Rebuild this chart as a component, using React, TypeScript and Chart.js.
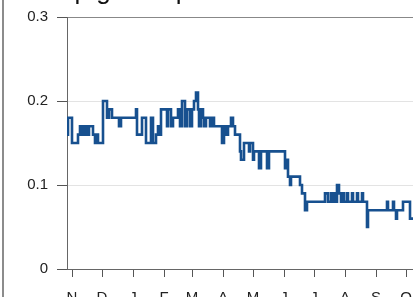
import React, { useEffect, useRef } from 'react';
import { Chart, registerables } from 'chart.js';

Chart.register(...registerables);

// ---- data ----
const titleText = 'Top gainer portfolio share';
const monthLabels = ['N', 'D', 'J', 'F', 'M', 'A', 'M', 'J', 'J', 'A', 'S', 'O'];
const monthStartDays = [0, 30, 61, 92, 120, 151, 181, 212, 242, 273, 304, 334];
const yTickValues = [0, 0.1, 0.2, 0.3];
// days since 1 Nov at which the value changes, and the new value
const changeDays = [
  -5, -4, 0, 6, 8, 9, 11, 12, 14, 15, 17, 21, 23, 25, 26, 31, 35, 37, 40, 47, 49,
  64, 65, 70, 74, 79, 81, 84, 86, 88, 89, 95, 96, 99, 101, 106, 108, 110, 113, 115,
  118, 120, 122, 124, 126, 127, 129, 131, 132, 134, 138, 140, 142, 150, 152, 154,
  156, 159, 161, 163, 168, 169, 172, 177, 178, 181, 182, 187, 189, 195, 197, 213,
  214, 216, 218, 219, 228, 230, 233, 235, 253, 256, 259, 260, 262, 263, 265, 267,
  269, 271, 272, 275, 276, 280, 281, 285, 286, 290, 291, 295, 296, 315, 316, 321,
  322, 324, 325, 331, 338, 350,
];
const changeValues = [
  0.16, 0.18, 0.15, 0.16, 0.17, 0.16, 0.17, 0.16, 0.17, 0.16, 0.17, 0.16, 0.15, 0.16, 0.15, 0.2, 0.18, 0.19, 0.18, 0.17, 0.18,
  0.19, 0.16, 0.18, 0.15, 0.18, 0.15, 0.16, 0.17, 0.16, 0.19, 0.17, 0.19, 0.17, 0.18, 0.19, 0.17, 0.2, 0.17, 0.19,
  0.17, 0.19, 0.2, 0.21, 0.19, 0.17, 0.19, 0.18, 0.17, 0.18, 0.17, 0.18, 0.17, 0.15, 0.17, 0.16,
  0.17, 0.18, 0.17, 0.16, 0.14, 0.13, 0.15, 0.14, 0.15, 0.13, 0.14, 0.12, 0.14, 0.12, 0.14, 0.12,
  0.13, 0.11, 0.1, 0.11, 0.1, 0.09, 0.07, 0.08, 0.09, 0.08, 0.09, 0.08, 0.09, 0.08, 0.1, 0.09,
  0.08, 0.09, 0.08, 0.09, 0.08, 0.09, 0.08, 0.09, 0.08, 0.09, 0.08, 0.05, 0.07, 0.08, 0.07, 0.08,
  0.07, 0.06, 0.07, 0.08, 0.06, 0.06,
];

const TOP = 40;
const FONT = { family: '"Liberation Sans", Arial, Helvetica, sans-serif', size: 15 };

export default function App() {
  const ref = useRef<HTMLCanvasElement>(null);

  useEffect(() => {
    const canvas = ref.current;
    if (!canvas) return;
    const points = changeDays.map((d, i) => ({ x: d, y: changeValues[i] }));

    const titlePlugin = {
      id: 'cropTitle',
      afterDraw(chart: any) {
        const ctx = chart.ctx;
        ctx.save();
        ctx.font = '26px "Liberation Sans", Arial, sans-serif';
        ctx.fillStyle = '#111';
        ctx.textAlign = 'left';
        ctx.textBaseline = 'alphabetic';
        ctx.fillText(titleText, 47, TOP - 1);
        ctx.restore();
      },
    };

    const chart = new Chart(canvas, {
      type: 'line',
      data: {
        datasets: [
          {
            data: points,
            borderColor: '#17508f',
            borderWidth: 2.6,
            pointRadius: 0,
            stepped: true,
            fill: false,
          },
        ],
      },
      options: {
        animation: false,
        responsive: false,
        devicePixelRatio: 1,
        layout: { padding: { top: TOP + 17, right: 8, left: 0, bottom: 0 } },
        plugins: { legend: { display: false }, tooltip: { enabled: false }, title: { display: false } },
        scales: {
          x: {
            type: 'linear',
            min: -5,
            max: 350,
            afterBuildTicks: (s: any) => {
              s.ticks = monthStartDays.map((v) => ({ value: v }));
            },
            afterFit: (s: any) => {
              s.height = 48;
            },
            ticks: {
              autoSkip: false,
              maxRotation: 0,
              padding: 12,
              color: '#222',
              font: FONT,
              callback: (v: any) => monthLabels[monthStartDays.indexOf(Number(v))] ?? '',
            },
            grid: { drawOnChartArea: false, drawTicks: true, tickLength: 8, tickColor: '#555' },
            border: { color: '#666', width: 1 },
          },
          y: {
            type: 'linear',
            min: 0,
            max: 0.3,
            afterBuildTicks: (s: any) => {
              s.ticks = yTickValues.map((v) => ({ value: v }));
            },
            afterFit: (s: any) => {
              s.width = 67;
            },
            ticks: {
              padding: 9,
              color: '#222',
              font: FONT,
              callback: (v: any) => (Number(v) === 0 ? '0' : Number(v).toFixed(1)),
            },
            grid: {
              color: (c: any) => (c.tick && Math.abs(c.tick.value - 0.3) < 1e-9 ? '#888' : '#e3e3e3'),
              tickLength: 10,
              tickColor: '#555',
            },
            border: { color: '#666', width: 1 },
          },
        },
      },
      plugins: [titlePlugin],
    });
    return () => chart.destroy();
  }, []);

  return (
    <div
      style={{
        position: 'fixed',
        left: 0,
        top: 0,
        width: 413,
        height: 297,
        overflow: 'hidden',
        background: '#fff',
      }}
    >
      <canvas
        ref={ref}
        width={430}
        height={TOP + 297 + 20}
        style={{ position: 'absolute', left: 0, top: -TOP, width: 430, height: TOP + 297 + 20 }}
      />
      <div style={{ position: 'absolute', left: 2, top: 0, width: 2, height: 297, background: '#8c8c8c' }} />
    </div>
  );
}
